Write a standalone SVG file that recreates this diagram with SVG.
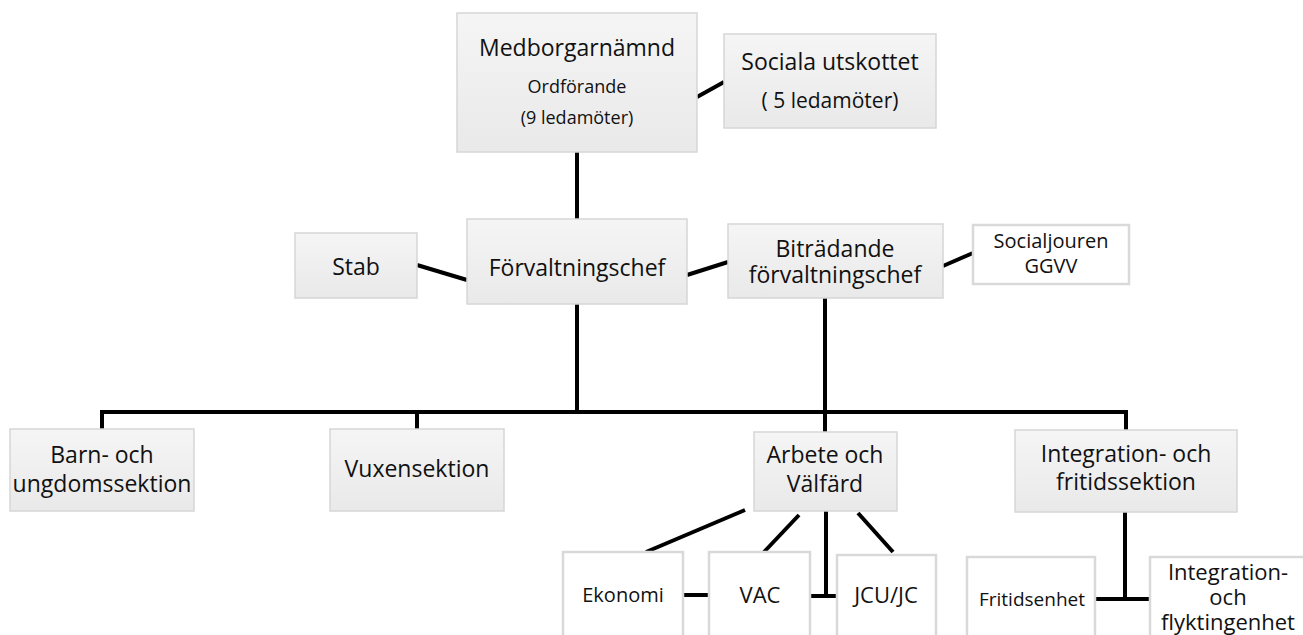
<svg xmlns="http://www.w3.org/2000/svg" width="1303" height="635" viewBox="0 0 1303 635">
<defs>
<linearGradient id="g" x1="0" y1="0" x2="0" y2="1">
<stop offset="0" stop-color="#f5f5f5"/>
<stop offset="1" stop-color="#e9e9e9"/>
</linearGradient>
</defs>
<style>
.gb{fill:url(#g);stroke:#d6d6d6;stroke-width:1.5}
.wb{fill:#ffffff;stroke:#d9d9d9;stroke-width:2.5}
text{font-family:"Open Sans","Liberation Sans",sans-serif;fill:#111;text-anchor:middle}
.l{font-size:23px}
.s{font-size:18px}
.m{font-size:21px}
.c line,.c path{stroke:#000;stroke-width:4;fill:none}
</style>
<rect width="1303" height="635" fill="#fff"/>
<g class="c" id="connectors">
<line x1="697" y1="97" x2="724" y2="82"/>
<line x1="577" y1="152" x2="577" y2="219"/>
<line x1="417" y1="265" x2="467" y2="280"/>
<line x1="687" y1="275" x2="728" y2="262"/>
<line x1="943" y1="266" x2="973" y2="253"/>
<line x1="577" y1="304" x2="577" y2="412"/>
<line x1="825" y1="298" x2="825" y2="432"/>
<path d="M102 429 V412 H1126 V430"/>
<line x1="417" y1="412" x2="417" y2="429"/>
<line x1="745" y1="510" x2="646" y2="552"/>
<line x1="799" y1="515" x2="764" y2="552"/>
<line x1="826" y1="511" x2="826" y2="597"/>
<line x1="858" y1="513" x2="893" y2="552"/>
<line x1="684" y1="595" x2="709" y2="595"/>
<line x1="810" y1="596" x2="837" y2="596"/>
<line x1="1125" y1="512" x2="1125" y2="599"/>
<line x1="1096" y1="599" x2="1150" y2="599"/>
</g>
<g id="medborgarnamnd">
<rect class="gb" x="457" y="13" width="240" height="139"/>
<text class="l" x="577" y="56">Medborgarnämnd</text>
<text class="s" x="577" y="93">Ordförande</text>
<text class="s" x="577" y="124">(9 ledamöter)</text>
</g>
<g id="sociala">
<rect class="gb" x="724" y="34" width="212" height="94"/>
<text class="l" x="830" y="70">Sociala utskottet</text>
<text class="m" x="830" y="108">( 5 ledamöter)</text>
</g>
<g id="stab">
<rect class="gb" x="295" y="233" width="122" height="65"/>
<text class="l" x="356" y="275">Stab</text>
</g>
<g id="forvaltningschef">
<rect class="gb" x="467" y="219" width="220" height="85"/>
<text class="l" x="577" y="276">Förvaltningschef</text>
</g>
<g id="bitradande">
<rect class="gb" x="728" y="224" width="215" height="74"/>
<text class="l" x="835" y="257">Biträdande</text>
<text class="l" x="835" y="283">förvaltningschef</text>
</g>
<g id="socialjouren">
<rect class="wb" x="973" y="225" width="156" height="59"/>
<text class="m" x="1051" y="248" style="font-size:20px">Socialjouren</text>
<text class="m" x="1051" y="273" style="font-size:20px">GGVV</text>
</g>
<g id="barn">
<rect class="gb" x="10" y="429" width="184" height="82"/>
<text class="l" x="102" y="463">Barn- och</text>
<text class="l" x="102" y="492">ungdomssektion</text>
</g>
<g id="vuxen">
<rect class="gb" x="330" y="429" width="174" height="82"/>
<text class="l" x="417" y="477">Vuxensektion</text>
</g>
<g id="arbete">
<rect class="gb" x="754" y="432" width="143" height="79"/>
<text class="l" x="825" y="463">Arbete och</text>
<text class="l" x="825" y="492">Välfärd</text>
</g>
<g id="integration-sektion">
<rect class="gb" x="1015" y="430" width="222" height="82"/>
<text class="l" x="1126" y="462">Integration- och</text>
<text class="l" x="1126" y="490">fritidssektion</text>
</g>
<g id="ekonomi">
<rect class="wb" x="563" y="552" width="120" height="95"/>
<text x="623" y="602" style="font-size:20px">Ekonomi</text>
</g>
<g id="vac">
<rect class="wb" x="709" y="552" width="101" height="95"/>
<text x="760" y="603" style="font-size:22px">VAC</text>
</g>
<g id="jcu">
<rect class="wb" x="837" y="555" width="99" height="92"/>
<text x="886" y="603" style="font-size:22px">JCU/JC</text>
</g>
<g id="fritidsenhet">
<rect class="wb" x="967" y="557" width="128" height="90"/>
<text x="1032" y="606" style="font-size:19px">Fritidsenhet</text>
</g>
<g id="integration-enhet">
<rect class="wb" x="1150" y="557" width="160" height="90"/>
<text x="1228" y="580" style="font-size:22px">Integration-</text>
<text x="1228" y="605" style="font-size:22px">och</text>
<text x="1228" y="630" style="font-size:22px">flyktingenhet</text>
</g>
</svg>
